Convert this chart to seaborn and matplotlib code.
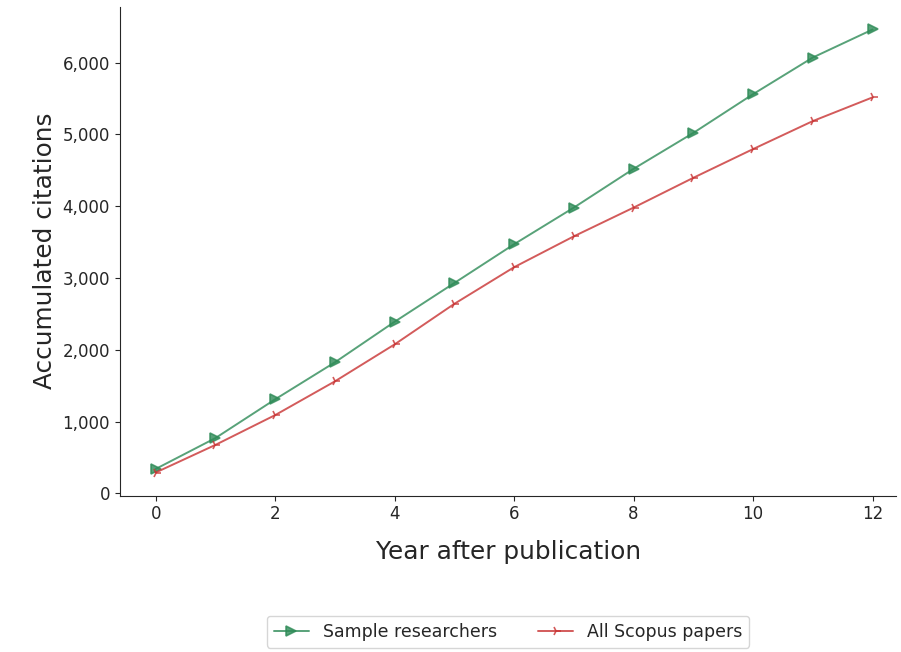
import numpy as np
import pandas as pd
import matplotlib.pyplot as plt
import matplotlib.ticker as mticker
import seaborn as sns

# ---- data ----
years = list(range(13))
sample_researchers = [340, 770, 1310, 1825, 2390, 2930, 3470, 3980, 4520, 5020, 5560, 6070, 6460]
all_scopus = [290, 675, 1090, 1560, 2075, 2640, 3150, 3580, 3980, 4395, 4795, 5185, 5515]

df = pd.DataFrame({
    "year": years * 2,
    "citations": sample_researchers + all_scopus,
    "series": ["Sample researchers"] * 13 + ["All Scopus papers"] * 13,
})

sns.set_style("ticks")
plt.rcParams['font.family'] = ['DejaVu Sans']

fig, ax = plt.subplots(figsize=(9.01, 6.52), dpi=100)
fig.subplots_adjust(left=0.133, right=0.995, top=0.99, bottom=0.24)

palette = {"Sample researchers": "seagreen", "All Scopus papers": "#c83232"}
markers = {"Sample researchers": ">", "All Scopus papers": "4"}
msizes = {"Sample researchers": 7, "All Scopus papers": 7}

for name in ["Sample researchers", "All Scopus papers"]:
    sub = df[df["series"] == name]
    sns.lineplot(data=sub, x="year", y="citations", ax=ax, color=palette[name],
                 marker=markers[name], markersize=msizes[name],
                 markeredgecolor=palette[name], markerfacecolor=palette[name],
                 markeredgewidth=1.2, linewidth=1.4, alpha=0.8, label=name)

ax.set_xticks(range(0, 13, 2))
ax.set_yticks(range(0, 7000, 1000))
ax.yaxis.set_major_formatter(mticker.FuncFormatter(lambda v, p: f"{int(v):,}"))
ax.set_xlim(-0.6, 12.4)
ax.set_ylim(-30, 6780)
ax.tick_params(labelsize=12)
ax.set_xlabel("Year after publication", fontsize=17.8, labelpad=12)
ax.set_ylabel("Accumulated citations", fontsize=17.8)
sns.despine(ax=ax)

ax.legend(loc="upper center", bbox_to_anchor=(0.5, -0.228), ncol=2, fontsize=12.5,
          frameon=True, columnspacing=2.4)

plt.savefig("out.png", dpi=100)
plt.close()
